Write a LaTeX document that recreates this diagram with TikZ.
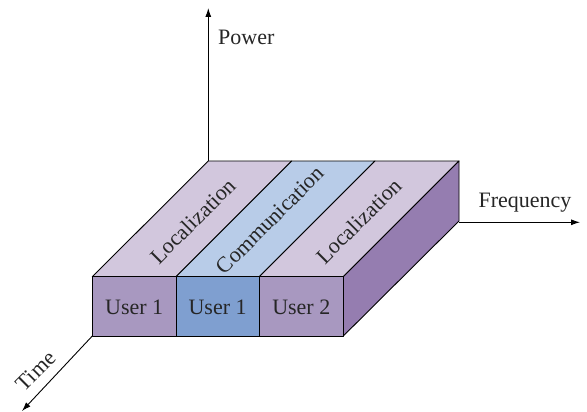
\documentclass[tikz,border=0pt]{standalone}
\usepackage{fontspec}
\setmainfont{Liberation Serif}
\usetikzlibrary{arrows.meta}
\definecolor{frontpurple}{HTML}{A898C0}
\definecolor{frontblue}{HTML}{7F9FD0}
\definecolor{toppurple}{HTML}{D2C7DD}
\definecolor{topblue}{HTML}{B8CCE8}
\definecolor{sidepurple}{HTML}{957DB0}
\tikzset{
  face/.style={draw=black, line width=0.9pt, line join=round},
  axis/.style={draw=black, line width=0.9pt, -{Latex[length=9pt,width=6pt]}},
  lbl/.style={font=\fontsize{22}{22}\selectfont, text=black!85, inner sep=0pt},
  toplbl/.style={lbl, rotate=45},
}
\begin{document}
\begin{tikzpicture}[x=1pt,y=-1pt]
\useasboundingbox (0,0) rectangle (587,412);
% front corners
\coordinate (a0) at (92.3,276.7);
\coordinate (a1) at (176,276.7);
\coordinate (a2) at (259.3,276.7);
\coordinate (a3) at (343.3,276.7);
\coordinate (b0) at (92.3,336);
\coordinate (b1) at (176,336);
\coordinate (b2) at (259.3,336);
\coordinate (b3) at (343.3,336);
% back top corners
\coordinate (c0) at (208.3,161);
\coordinate (c1) at (291.7,161);
\coordinate (c2) at (375,161);
\coordinate (c3) at (459,161);
\coordinate (d3) at (459,221);
% axes end points
\coordinate (ptop) at (208.3,8);
\coordinate (ftip) at (580,222.3);
\coordinate (forig) at (459,222.3);
\coordinate (ttip) at (22,411);
% axes
\draw[axis] (c0) -- (ptop);
\draw[axis] (forig) -- (ftip);
\draw[axis] (b0) -- (ttip);
% top faces
\path[face, fill=toppurple] (a0) -- (a1) -- (c1) -- (c0) -- cycle;
\path[face, fill=topblue] (a1) -- (a2) -- (c2) -- (c1) -- cycle;
\path[face, fill=toppurple] (a2) -- (a3) -- (c3) -- (c2) -- cycle;
% side face
\path[face, fill=sidepurple] (a3) -- (c3) -- (d3) -- (b3) -- cycle;
% front faces
\path[face, fill=frontpurple] (a0) rectangle (b1);
\path[face, fill=frontblue] (a1) rectangle (b2);
\path[face, fill=frontpurple] (a2) rectangle (b3);
% labels
\node[lbl] (u1) at (134.2,307) {User 1};
\node[lbl] (u2) at (217.6,307) {User 1};
\node[lbl] (u3) at (301.3,307) {User 2};
\node[toplbl] (l1) at (193,221) {Localization};
\node[toplbl] (l2) at (270,220) {Communication};
\node[toplbl] (l3) at (359,221) {Localization};
\node[lbl, anchor=west] (pw) at (218,37) {Power};
\node[lbl] (fq) at (525,203) {Frequency};
\node[lbl, rotate=45] (tm) at (36,371) {Time};
\end{tikzpicture}
\end{document}
